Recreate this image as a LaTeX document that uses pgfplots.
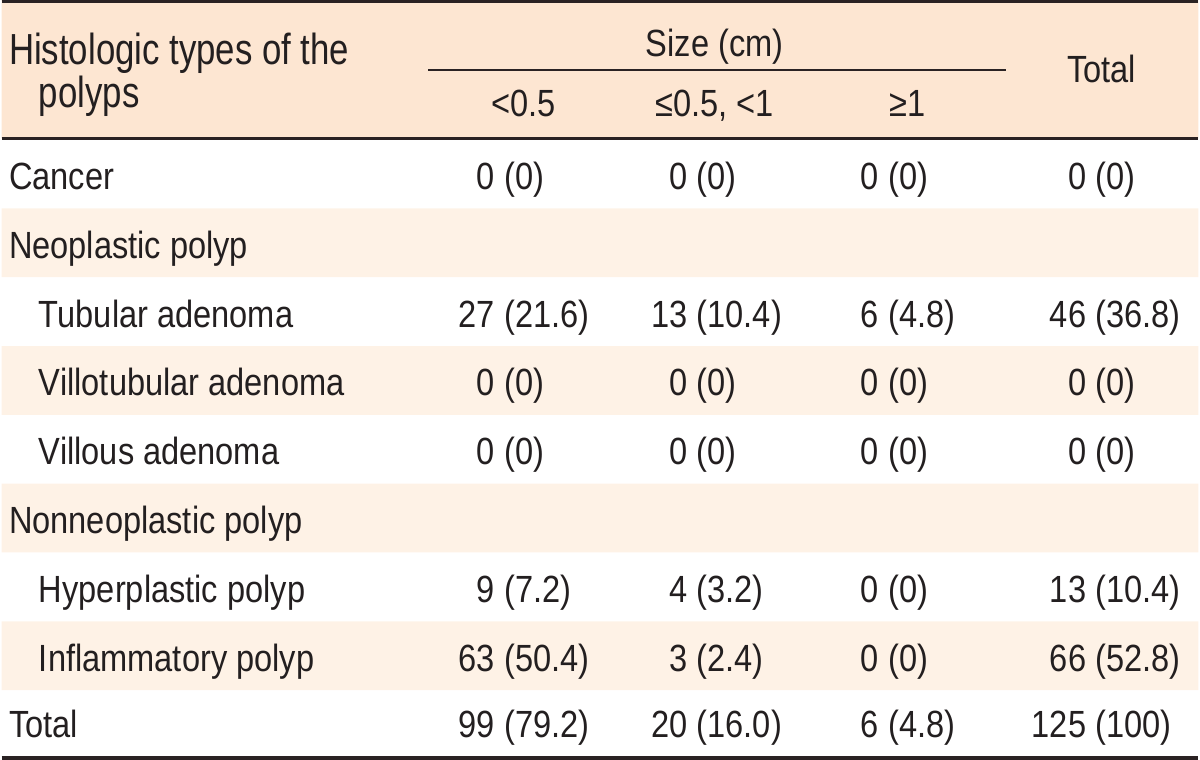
\documentclass[border=0pt]{standalone}
\usepackage{pgfplots}
\pgfplotsset{compat=1.18}
\usepackage{pgfplotstable}
\usepackage{fontspec}
\setmainfont{Liberation Sans}[FakeStretch=0.86]
\newfontfamily\hdrfam{Liberation Sans}[FakeStretch=0.80]
\definecolor{hdr}{HTML}{FDE6D2}
\definecolor{alt}{HTML}{FEF2E6}
\definecolor{txt}{HTML}{231F20}
\definecolor{rulec}{HTML}{2A2223}
\newcommand\bodyfont{\fontsize{19}{23}\selectfont}
\newcommand\hdrfont{\hdrfam\fontsize{21.8}{26}\selectfont}

% cells: x = right edge of count, y = baseline (px from top), n = count, p = percent
\pgfplotstableread{
x y n p
495 190 0 0
688 190 0 0
880 190 0 0
1088 190 0 0
495 328 27 21.6
688 328 13 10.4
880 328 6 4.8
1088 328 46 36.8
495 397 0 0
688 397 0 0
880 397 0 0
1088 397 0 0
495 466 0 0
688 466 0 0
880 466 0 0
1088 466 0 0
495 604 9 7.2
688 604 4 3.2
880 604 0 0
1088 604 13 10.4
495 673 63 50.4
688 673 3 2.4
880 673 0 0
1088 673 66 52.8
495 740 99 79.2
688 740 20 16.0
880 740 6 4.8
1088 740 125 100
}\cells

\begin{document}
\begin{tikzpicture}
\begin{axis}[width=600pt,height=381pt,scale only axis,
  xmin=0,xmax=1200,ymin=0,ymax=762,y dir=reverse,
  hide axis,clip=false]
% backgrounds
\addplot[fill=hdr,draw=none] coordinates {(0,0) (1200,0) (1200,139) (0,139) (0,0)};
\addplot[fill=alt,draw=none] coordinates {(0,209) (1200,209) (1200,278) (0,278) (0,209)};
\addplot[fill=alt,draw=none] coordinates {(0,347) (1200,347) (1200,416) (0,416) (0,347)};
\addplot[fill=alt,draw=none] coordinates {(0,485) (1200,485) (1200,554) (0,554) (0,485)};
\addplot[fill=alt,draw=none] coordinates {(0,623) (1200,623) (1200,692) (0,692) (0,623)};
% rules
\addplot[rulec,line width=1.35pt] coordinates {(0,1.4) (1200,1.4)};
\addplot[rulec,line width=1.4pt] coordinates {(0,138.5) (1200,138.5)};
\addplot[rulec,line width=1.1pt] coordinates {(428,70) (1007,70)};
\addplot[rulec,line width=1.7pt] coordinates {(0,760.3) (1200,760.3)};
% row labels
\addplot[draw=none,mark=none,point meta=explicit symbolic,nodes near coords,
  nodes near coords align={anchor=base west},
  every node near coord/.append style={anchor=base west,inner sep=0pt,font=\bodyfont,text=txt}]
  coordinates {(7,190) [Cancer] (7,259) [Neoplastic polyp]
  (37,328) [Tubular adenoma] (37,397) [Villotubular adenoma] (37,466) [Villous adenoma]
  (7,535) [Nonneoplastic polyp] (37,604) [Hyperplastic polyp] (37,673) [Inflammatory polyp]
  (7,740) [Total]};
% cells: counts (right-aligned at x)
\addplot[draw=none,mark=none,point meta=explicit symbolic,nodes near coords,
  nodes near coords align={anchor=base east},
  every node near coord/.append style={anchor=base east,inner sep=0pt,font=\bodyfont,text=txt}]
  table[x=x,y=y,meta=n]{\cells};
% cells: percentages (left-aligned at x)
\addplot[draw=none,mark=none,point meta=explicit symbolic,
  nodes near coords={\rlap{\ (\pgfplotspointmeta)}},
  nodes near coords align={anchor=base},
  every node near coord/.append style={anchor=base,inner sep=0pt,font=\bodyfont,text=txt}]
  table[x=x,y=y,meta=p]{\cells};
% header texts
\node[anchor=base west,inner sep=0pt,font=\hdrfont,text=txt] at (axis cs:7,65) {Histologic types of the};
\node[anchor=base west,inner sep=0pt,font=\hdrfont,text=txt] at (axis cs:37,108) {polyps};
\node[anchor=base,inner sep=0pt,font=\bodyfont,text=txt] at (axis cs:715,57) {Size (cm)};
\node[anchor=base,inner sep=0pt,font=\bodyfont,text=txt] at (axis cs:1103,83) {Total};
\node[anchor=base,inner sep=0pt,font=\bodyfont,text=txt] at (axis cs:523,117) {<0.5};
\node[anchor=base,inner sep=0pt,font=\bodyfont,text=txt] at (axis cs:715,117) {≤0.5, <1};
\node[anchor=base,inner sep=0pt,font=\bodyfont,text=txt] at (axis cs:908,117) {≥1};
\end{axis}
\end{tikzpicture}
\end{document}
